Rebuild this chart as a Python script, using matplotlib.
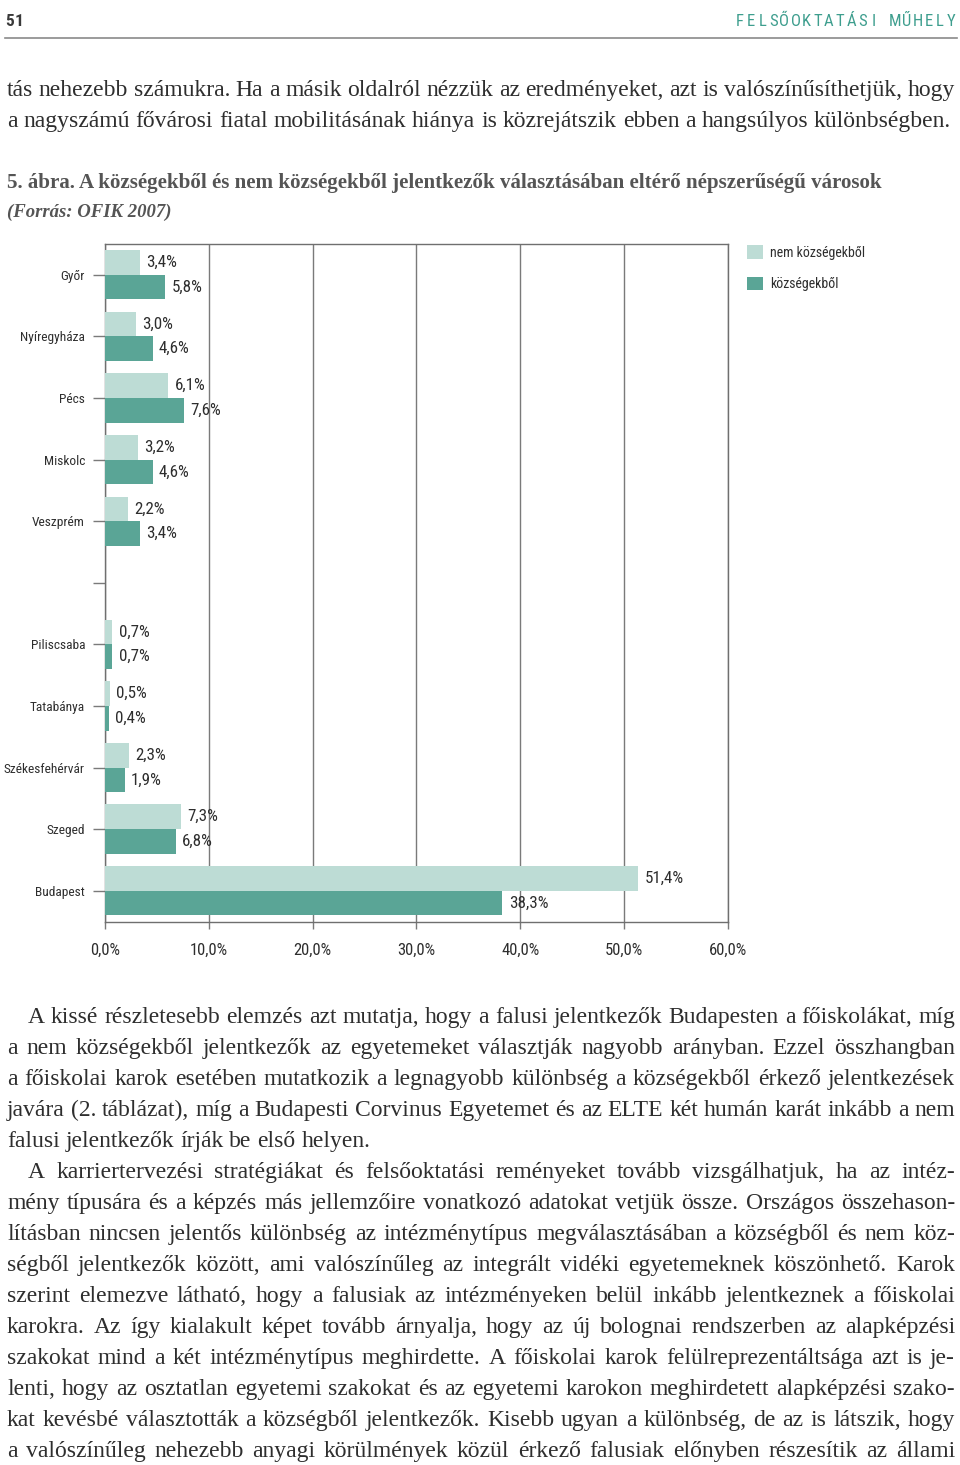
import matplotlib
matplotlib.use("Agg")
import matplotlib.pyplot as plt
from matplotlib import font_manager
from matplotlib.font_manager import FontProperties
from matplotlib.transforms import ScaledTranslation
import numpy as np

W, H = 960, 1465

# ---- adatok ----
varosok = ['Győr', 'Nyíregyháza', 'Pécs', 'Miskolc', 'Veszprém', '',
           'Piliscsaba', 'Tatabánya', 'Székesfehérvár', 'Szeged', 'Budapest']
nem_kozsegbol = [3.4, 3.0, 6.1, 3.2, 2.2, np.nan, 0.7, 0.5, 2.3, 7.3, 51.4]
kozsegbol = [5.8, 4.6, 7.6, 4.6, 3.4, np.nan, 0.7, 0.4, 1.9, 6.8, 38.3]
x_ticks = [0, 10, 20, 30, 40, 50, 60]
legend_labels = ['nem községekből', 'községekből']

header_left = '51'
header_right = 'FELSŐOKTATÁSI MŰHELY'
para_top = [
    'tás nehezebb számukra. Ha a másik oldalról nézzük az eredményeket, azt is valószínűsíthetjük, hogy',
    'a nagyszámú fővárosi fiatal mobilitásának hiánya is közrejátszik ebben a hangsúlyos különbségben.',
]
caption = '5. ábra. A községekből és nem községekből jelentkezők választásában eltérő népszerűségű városok'
source = '(Forrás: OFIK 2007)'
# (sor, behuzas, sorkizart)
para_bottom = [
    ('A kissé részletesebb elemzés azt mutatja, hogy a falusi jelentkezők Budapesten a főiskolákat, míg', True, True),
    ('a nem községekből jelentkezők az egyetemeket választják nagyobb arányban. Ezzel összhangban', False, True),
    ('a főiskolai karok esetében mutatkozik a legnagyobb különbség a községekből érkező jelentkezések', False, True),
    ('javára (2. táblázat), míg a Budapesti Corvinus Egyetemet és az ELTE két humán karát inkább a nem', False, True),
    ('falusi jelentkezők írják be első helyen.', False, False),
    ('A karriertervezési stratégiákat és felsőoktatási reményeket tovább vizsgálhatjuk, ha az intéz-', True, True),
    ('mény típusára és a képzés más jellemzőire vonatkozó adatokat vetjük össze. Országos összehason-', False, True),
    ('lításban nincsen jelentős különbség az intézménytípus megválasztásában a községből és nem köz-', False, True),
    ('ségből jelentkezők között, ami valószínűleg az integrált vidéki egyetemeknek köszönhető. Karok', False, True),
    ('szerint elemezve látható, hogy a falusiak az intézményeken belül inkább jelentkeznek a főiskolai', False, True),
    ('karokra. Az így kialakult képet tovább árnyalja, hogy az új bolognai rendszerben az alapképzési', False, True),
    ('szakokat mind a két intézménytípus meghirdette. A főiskolai karok felülreprezentáltsága azt is je-', False, True),
    ('lenti, hogy az osztatlan egyetemi szakokat és az egyetemi karokon meghirdetett alapképzési szako-', False, True),
    ('kat kevésbé választották a községből jelentkezők. Kisebb ugyan a különbség, de az is látszik, hogy', False, True),
    ('a valószínűleg nehezebb anyagi körülmények közül érkező falusiak előnyben részesítik az állami', False, True),
]

VILAGOS = '#bddcd5'
SOTET = '#5aa596'
RACS = '#7a7a7a'
SZOVEG = '#2e2e2e'
TEAL = '#3e9e8e'
CIMSZIN = '#555555'

# ---- fontok ----
names = {f.name for f in font_manager.fontManager.ttflist}
narrow_kw = None
for fam in ['Roboto Condensed', 'Liberation Sans Narrow', 'Open Sans Condensed', 'DejaVu Sans Condensed']:
    if fam in names:
        narrow_kw = dict(family=fam)
        break
if narrow_kw is None:
    cond = [f for f in font_manager.fontManager.ttflist
            if f.stretch in ('condensed', 'semi-condensed', 'extra-condensed') and f.style == 'normal']
    if cond:
        narrow_kw = dict(family=cond[0].name, stretch=cond[0].stretch)
    else:
        narrow_kw = dict(family='Roboto' if 'Roboto' in names else 'DejaVu Sans')
serif = 'Liberation Serif' if 'Liberation Serif' in names else 'DejaVu Serif'

fig = plt.figure(figsize=(W / 100, H / 100), dpi=100)
fig.patch.set_facecolor('white')
renderer = fig.canvas.get_renderer()


def tw(s, fp):
    w, h, d = renderer.get_text_width_height_descent(s, fp, ismath=False)
    return w


def fit_size(s, target, base=12, **kw):
    fp = FontProperties(size=base, **kw)
    return base * target / tw(s, fp)


def put(x, y, s, fp, color, ha='left', va='baseline'):
    fig.text(x / W, 1 - y / H, s, fontproperties=fp, color=color, ha=ha, va=va)


def put_line(line, x0, x1, yb, fp, color, justify=True):
    words = line.split(' ')
    widths = [tw(w, fp) for w in words]
    space = tw('n n', fp) - 2 * tw('n', fp)
    if justify and len(words) > 1:
        gap = (x1 - x0 - sum(widths)) / (len(words) - 1)
    else:
        gap = space
    x = x0
    for w, wd in zip(words, widths):
        put(x, yb, w, fp, color)
        x += wd + gap


def body_size(lines, start=15.0, spacef=0.9):
    fp = FontProperties(family=serif, size=start)
    space = tw('n n', fp) - 2 * tw('n', fp)
    worst = 0
    for (line, x0, x1) in lines:
        words = line.split(' ')
        nat = sum(tw(w, fp) for w in words) + spacef * space * (len(words) - 1)
        worst = max(worst, nat / (x1 - x0))
    return start / worst


# ---- fejlec ----
hfp = FontProperties(size=12, **narrow_kw)
hfp_b = FontProperties(size=12.5, weight='bold', **narrow_kw)
for i, ch in enumerate(header_left):
    put(10 + 9 * i, 20, ch, hfp_b, '#3a3a3a', ha='center', va='center_baseline')
n = len(header_right)
for i, ch in enumerate(header_right):
    if ch != ' ':
        put(740 + i * (951 - 740) / (n - 1), 20, ch, hfp, TEAL, ha='center', va='center_baseline')
fig.add_artist(plt.Line2D([5 / W, 957 / W], [1 - 38 / H, 1 - 38 / H], color='#8a8a8a', lw=1.2))

# ---- felso bekezdes ----
X0, X1 = 7, 955
bs = body_size([(l, X0, X1) for l in para_top] +
               [(l, 28 if ind else X0, X1) for l, ind, j in para_bottom if j])
bfp = FontProperties(family=serif, size=bs)
for i, line in enumerate(para_top):
    put_line(line, X0, X1 if i == 0 else 951, 96 + 31 * i, bfp, SZOVEG)

# ---- abracim ----
cfp = FontProperties(family=serif, weight='bold', size=fit_size(caption, 873, family=serif, weight='bold'))
put(X0, 188, caption, cfp, CIMSZIN)
sfp = FontProperties(family=serif, weight='bold', style='italic',
                     size=fit_size(source, 165, family=serif, weight='bold', style='italic'))
put(X0, 217, source, sfp, CIMSZIN)

# ---- diagram ----
left, right, top, bottom = 105, 727.7, 244, 921.5
ax = fig.add_axes([left / W, 1 - bottom / H, (right - left) / W, (bottom - top) / H])
pos = np.arange(len(varosok))
bh = 0.4
b1 = ax.barh(pos - bh / 2, nem_kozsegbol, height=bh, color=VILAGOS, label=legend_labels[0], zorder=3)
b2 = ax.barh(pos + bh / 2, kozsegbol, height=bh, color=SOTET, label=legend_labels[1], zorder=3)
ax.set_ylim(len(varosok) - 0.5, -0.5)
ax.set_xlim(0, 60)


def fmt(v):
    return '' if np.isnan(v) else f'{v:.1f}%'.replace('.', ',')


vsize = fit_size('51,4%', 34, **narrow_kw) * 1.15
vfp = FontProperties(size=vsize, **narrow_kw)
ax.bar_label(b1, labels=[fmt(v) for v in nem_kozsegbol], padding=4.5, fontproperties=vfp, color=SZOVEG)
ax.bar_label(b2, labels=[fmt(v) for v in kozsegbol], padding=4.5, fontproperties=vfp, color=SZOVEG)

ysize = fit_size('Székesfehérvár', 81, **narrow_kw)
ax.set_yticks(pos)
ax.set_yticklabels(varosok, fontproperties=FontProperties(size=ysize, **narrow_kw), color=SZOVEG)
xsize = fit_size('10,0%', 33, **narrow_kw) * 1.15
ax.set_xticks(x_ticks)
ax.set_xticklabels([f'{v:.1f}%'.replace('.', ',') for v in x_ticks],
                   fontproperties=FontProperties(size=xsize, **narrow_kw), color=SZOVEG)
shift = ScaledTranslation(3 / 100, 0, fig.dpi_scale_trans)
for lab in ax.get_xticklabels():
    lab.set_transform(lab.get_transform() + shift)
ax.tick_params(axis='y', length=8.4, width=1, color=RACS, pad=6)
ax.tick_params(axis='x', length=5, width=1, color=RACS, pad=10)
ax.grid(axis='x', color=RACS, lw=1.0, zorder=0)
ax.set_axisbelow(True)
for sp in ax.spines.values():
    sp.set_color('#6f6f6f')
    sp.set_linewidth(1.0)

lsize = fit_size('nem községekből', 87, **narrow_kw) * 1.1
lpx = lsize * 100 / 72
fig.legend(handles=[b1, b2], labels=legend_labels, loc='upper left',
           bbox_to_anchor=(746.7 / W, 1 - 245 / H), frameon=False,
           prop=FontProperties(size=lsize, **narrow_kw), labelcolor=SZOVEG,
           handlelength=16 / lpx, handleheight=16 / lpx, handletextpad=7.5 / lpx,
           labelspacing=(33 - 16) / lpx, borderpad=0, borderaxespad=0)

# ---- also bekezdesek ----
for i, (line, ind, just) in enumerate(para_bottom):
    put_line(line, 28 if ind else X0, X1, 1023 + 31 * i, bfp, SZOVEG, justify=just)

fig.savefig('out.png', dpi=100)
